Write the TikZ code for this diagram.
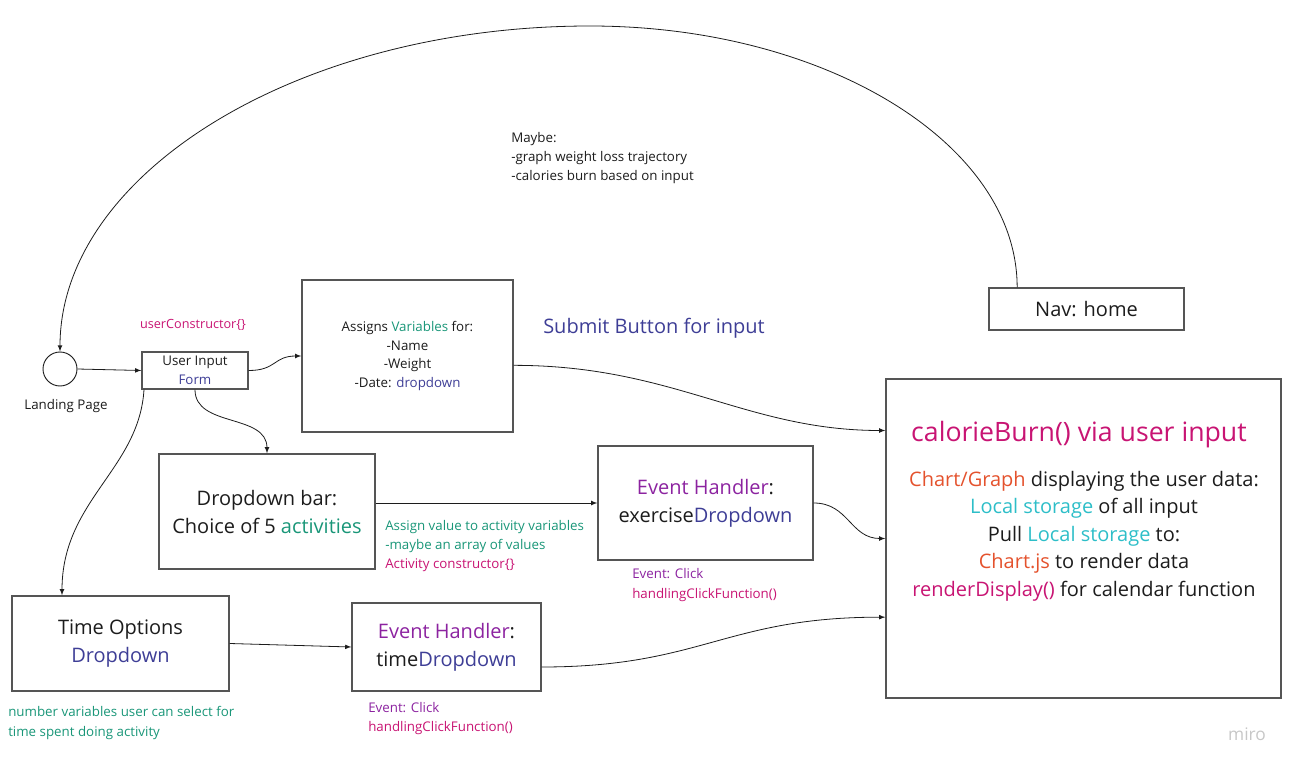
\documentclass[tikz,border=0pt]{standalone}
\usepackage{fontspec}
\setmainfont{Open Sans}
\usetikzlibrary{calc}
\definecolor{inkblack}{RGB}{28,28,28}
\definecolor{boxgrey}{RGB}{85,85,85}
\definecolor{inkmag}{RGB}{200,20,115}
\definecolor{inkpurple}{RGB}{140,35,160}
\definecolor{inknavy}{RGB}{62,62,150}
\definecolor{inkgreen}{RGB}{25,150,120}
\definecolor{inkcyan}{RGB}{45,190,200}
\definecolor{inkorange}{RGB}{228,82,45}

\begin{document}
\begin{tikzpicture}[x=0.75pt,y=-0.75pt,>=latex,text=inkblack,
    flowbox/.style={draw=boxgrey,line width=1pt,inner sep=0pt,align=center},
    smallfont/.style={font=\fontsize{10}{14.5}\selectfont},
    boxfont/.style={font=\fontsize{15}{21}\selectfont},
    note/.style={smallfont,align=left,anchor=west,inner sep=0pt},
    link/.style={->,line width=0.6pt,draw=inkblack}]
    \useasboundingbox (0,0) rectangle (1297,770);

    % Landing page and user input
    \node[draw=inkblack,line width=0.7pt,circle,minimum size=25.5pt,inner sep=0pt] (land) at (60,369) {};
    \node[smallfont] (landlbl) at (66,406) {Landing Page};
    \node[font=\fontsize{9.5}{12}\selectfont,text=inkmag] (ucons) at (193,325) {userConstructor\{\}};
    \node[flowbox,smallfont,minimum width=79.5pt,minimum height=27.75pt,
          font=\fontsize{10}{14}\selectfont] (ui) at (195,370.5) {User Input\\\textcolor{inknavy}{Form}};

    % Assigned variables
    \node[flowbox,minimum width=158.25pt,minimum height=114pt,
          font=\fontsize{10}{14}\selectfont] (assign) at (407.5,356)
          {Assigns \textcolor{inkgreen}{Variables} for:\\-Name\\-Weight\\-Date: \textcolor{inknavy}{dropdown}};
    \node[font=\fontsize{15}{18}\selectfont,text=inknavy] (submit) at (654,328) {Submit Button for input};

    % Maybe note and nav
    \node[note,font=\fontsize{10}{14.25}\selectfont] (maybe) at (511,158)
          {Maybe:\\-graph weight loss trajectory\\-calories burn based on input};
    \node[flowbox,boxfont,minimum width=146.25pt,minimum height=31.5pt] (nav) at (1086.5,309) {Nav: home};
    \coordinate (apex) at (590,26);

    % Activity dropdown
    \node[flowbox,boxfont,minimum width=162pt,minimum height=86.25pt] (drop) at (267,511.5)
          {Dropdown bar:\\Choice of 5 \textcolor{inkgreen}{activities}};
    \node[note] (actnote) at (385,546)
          {\textcolor{inkgreen}{Assign value to activity variables}\\
           \textcolor{inkgreen}{-maybe an array of values}\\
           \textcolor{inkmag}{Activity constructor\{\}}};
    \node[flowbox,boxfont,minimum width=161.25pt,minimum height=85.5pt] (exer) at (705.5,503)
          {\textcolor{inkpurple}{Event Handler}:\\exercise\textcolor{inknavy}{Dropdown}};
    \node[note] (exevt) at (632,585)
          {\textcolor{inkpurple}{Event: Click}\\\textcolor{inkmag}{handlingClickFunction()}};

    % Time dropdown
    \node[flowbox,boxfont,minimum width=162.75pt,minimum height=71.25pt] (timeopt) at (120.5,643.5)
          {Time Options\\\textcolor{inknavy}{Dropdown}};
    \node[note,text=inkgreen] (timenote) at (8,723)
          {number variables user can select for\\time spent doing activity};
    \node[flowbox,boxfont,minimum width=141.75pt,minimum height=66pt] (timeh) at (446.5,647)
          {\textcolor{inkpurple}{Event Handler}:\\time\textcolor{inknavy}{Dropdown}};
    \node[note] (timeevt) at (368,718.5)
          {\textcolor{inkpurple}{Event: Click}\\\textcolor{inkmag}{handlingClickFunction()}};

    % calorieBurn box
    \node[flowbox,minimum width=296.25pt,minimum height=239.25pt] (burn) at (1083.5,538.5) {};
    \node[font=\fontsize{20}{24}\selectfont,text=inkmag] (burntitle) at (1079,435) {calorieBurn() via user input};
    \node[align=center,font=\fontsize{15}{20.6}\selectfont] (burnbody) at (1084,536)
          {\textcolor{inkorange}{Chart/Graph} displaying the user data:\\
           \textcolor{inkcyan}{Local storage} of all input\\
           Pull \textcolor{inkcyan}{Local storage} to:\\
           \textcolor{inkorange}{Chart.js} to render data\\
           \textcolor{inkmag}{renderDisplay()} for calendar function};

    % miro mark
    \node[font=\fontsize{13}{15}\selectfont,text=black!22] (miro) at (1247,734) {miro};

    % Connectors
    \draw[link] (land.east) -- (ui.west);
    \draw[link] (ui.east) .. controls +(28,0) and +(-28,0) .. (assign.west);
    \draw[link] (ui.south) .. controls +(0,38) and +(0,-40) .. (drop.north);
    \draw[link] ([xshift=2pt]ui.south west) .. controls +(-5,80) and +(0,-95) .. ([xshift=38pt]timeopt.north west);
    \draw[link] (drop.east |- exer.west) -- (exer.west);
    \draw[link] (exer.east) .. controls +(35,0) and +(-35,0) .. (burn.west);
    \draw[link] ([yshift=-7pt]assign.east) .. controls +(160,0) and +(-140,0) .. ([yshift=81pt]burn.west);
    \draw[link] (timeopt.east) -- (timeh.west);
    \draw[link] ([yshift=-15pt]timeh.east) .. controls +(160,0) and +(-160,0) .. ([yshift=-59pt]burn.west);
    \draw[link] ([xshift=-52pt]nav.north) .. controls +(0,-144) and +(235,0) .. (apex)
          .. controls +(-292,0) and +(0,-178) .. (land.north);
\end{tikzpicture}
\end{document}
